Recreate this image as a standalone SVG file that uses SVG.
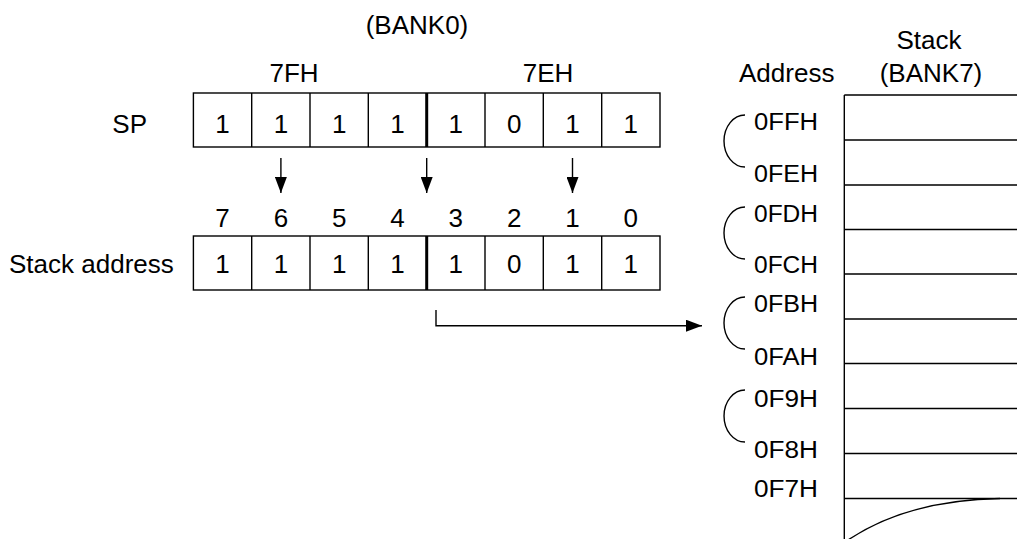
<svg xmlns="http://www.w3.org/2000/svg" width="1017" height="539" viewBox="0 0 1017 539">
<style>
text{font-family:"Liberation Sans",Arial,sans-serif;font-size:26px;fill:#000}
.c{text-anchor:middle}
.e{text-anchor:end}
.ad{font-size:23.5px}
.ln{stroke:#000;stroke-width:1.4;fill:none}
.thick{stroke:#000;stroke-width:3;fill:none}
.cell{fill:#fff;stroke:#000;stroke-width:1.4}
</style>
<defs>
<marker id="ah" viewBox="0 0 16 12" refX="16" refY="6" markerWidth="16" markerHeight="12" markerUnits="userSpaceOnUse" orient="auto">
<path d="M0,0 L16,6 L0,12 Z" fill="#000"/>
</marker>
</defs>
<rect width="1017" height="539" fill="#fff"/>

<g id="labels-top">
<text class="c" x="417" y="34">(BANK0)</text>
<text class="c" x="294" y="82">7FH</text>
<text class="c" x="548" y="82">7EH</text>
</g>

<g id="sp-register">
<text class="e" x="147" y="133">SP</text>
<rect class="cell" x="193.4" y="93" width="466.6" height="54"/>
<path class="ln" d="M251.7,93V147M310,93V147M368.3,93V147M485,93V147M543.3,93V147M601.7,93V147"/>
<path class="thick" d="M426.7,93V147"/>
<g class="c">
<text x="222.6" y="133">1</text><text x="280.9" y="133">1</text><text x="339.2" y="133">1</text><text x="397.5" y="133">1</text>
<text x="455.8" y="133">1</text><text x="514.2" y="133">0</text><text x="572.5" y="133">1</text><text x="630.8" y="133">1</text>
</g>
</g>

<g id="bit-numbers" class="c">
<text x="222.6" y="227">7</text><text x="280.9" y="227">6</text><text x="339.2" y="227">5</text><text x="397.5" y="227">4</text>
<text x="455.8" y="227">3</text><text x="514.2" y="227">2</text><text x="572.5" y="227">1</text><text x="630.8" y="227">0</text>
</g>

<g id="stack-address-register">
<text x="9" y="273">Stack address</text>
<rect class="cell" x="193.4" y="236" width="466.6" height="54"/>
<path class="ln" d="M251.7,236V290M310,236V290M368.3,236V290M485,236V290M543.3,236V290M601.7,236V290"/>
<path class="thick" d="M426.7,236V290"/>
<g class="c">
<text x="222.6" y="273">1</text><text x="280.9" y="273">1</text><text x="339.2" y="273">1</text><text x="397.5" y="273">1</text>
<text x="455.8" y="273">1</text><text x="514.2" y="273">0</text><text x="572.5" y="273">1</text><text x="630.8" y="273">1</text>
</g>
</g>

<g id="connectors">
<path class="ln" d="M280.9,158V193" marker-end="url(#ah)"/>
<path class="ln" d="M426.7,158V193" marker-end="url(#ah)"/>
<path class="ln" d="M572.5,158V193" marker-end="url(#ah)"/>
<path class="ln" d="M436,310V325.7H702" marker-end="url(#ah)"/>
</g>

<g id="stack-memory">
<text x="739" y="82">Address</text>
<text class="c" x="929" y="49">Stack</text>
<text class="c" x="931" y="82">(BANK7)</text>
<path class="ln" d="M844.3,95V539M844.3,95H1017M844.3,140H1017M844.3,185H1017M844.3,229.5H1017M844.3,274H1017M844.3,319H1017M844.3,363.5H1017M844.3,408.5H1017M844.3,453.5H1017M844.3,498.5H1017"/>
<path class="ln" d="M848,540 C890,512 940,499.5 1000,498.5"/>
</g>

<g id="address-labels">
<text class="ad" x="754" y="130" textLength="64" lengthAdjust="spacingAndGlyphs">0FFH</text>
<text class="ad" x="754" y="181.5" textLength="64" lengthAdjust="spacingAndGlyphs">0FEH</text>
<text class="ad" x="754" y="221.5" textLength="64" lengthAdjust="spacingAndGlyphs">0FDH</text>
<text class="ad" x="754" y="273" textLength="64" lengthAdjust="spacingAndGlyphs">0FCH</text>
<text class="ad" x="754" y="311.5" textLength="64" lengthAdjust="spacingAndGlyphs">0FBH</text>
<text class="ad" x="754" y="365" textLength="64" lengthAdjust="spacingAndGlyphs">0FAH</text>
<text class="ad" x="754" y="406.5" textLength="64" lengthAdjust="spacingAndGlyphs">0F9H</text>
<text class="ad" x="754" y="458" textLength="64" lengthAdjust="spacingAndGlyphs">0F8H</text>
<text class="ad" x="754" y="497" textLength="64" lengthAdjust="spacingAndGlyphs">0F7H</text>
<path class="ln" d="M745,115 A21,26 0 0 0 745,167"/>
<path class="ln" d="M745,207 A21,26 0 0 0 745,259"/>
<path class="ln" d="M745,297 A21,26 0 0 0 745,349"/>
<path class="ln" d="M745,390 A21,26 0 0 0 745,442"/>
</g>
</svg>
